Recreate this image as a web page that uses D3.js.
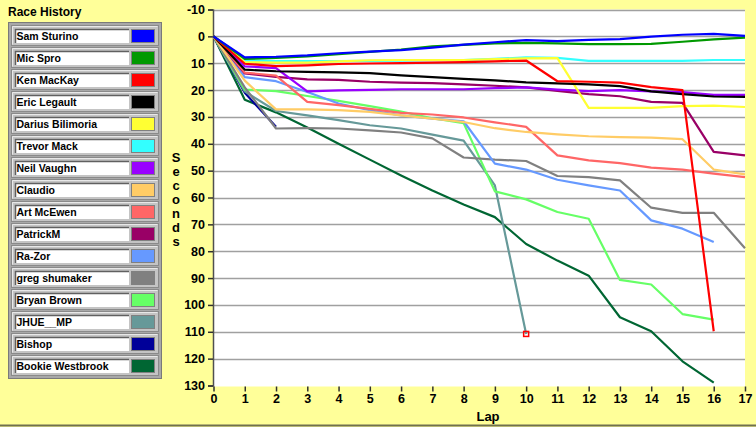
<!DOCTYPE html>
<html>
<head>
<meta charset="utf-8">
<script src="https://cdn.jsdelivr.net/npm/d3@7"></script>
<style>
  body { margin: 0; background: #FFFF99; }
  svg { display: block; font-family: "Liberation Sans", Arial, sans-serif; font-weight: bold; }
</style>
</head>
<body>
<div id="chart"></div>
<script>
const laps = d3.range(0, 18);
const yTicks = d3.range(-10, 131, 10);

const drivers = ["Sam Sturino", "Mic Spro", "Ken MacKay", "Eric Legault", "Darius Bilimoria",
  "Trevor Mack", "Neil Vaughn", "Claudio", "Art McEwen", "PatrickM", "Ra-Zor",
  "greg shumaker", "Bryan Brown", "JHUE__MP", "Bishop", "Bookie Westbrook"];

const colors = ["#0000FF", "#009900", "#FF0000", "#000000", "#FFFF33", "#33FFFF", "#9900FF",
  "#FFCC66", "#FF6666", "#990066", "#6699FF", "#808080", "#66FF66", "#669999", "#000099", "#006633"];

// seconds behind the leader after each lap (lap 0 first)
const samSturino = [0, 7.8, 7.6, 7.1, 6.3, 5.7, 5.1, 4.2, 3.1, 2.2, 1.4, 1.8, 1.3, 1.0, 0.1, -0.6, -0.9, -0.2];
const micSpro = [0, 8.4, 8.0, 7.5, 6.6, 5.8, 4.9, 3.7, 3.2, 2.6, 2.4, 2.6, 2.9, 2.9, 2.8, 2.0, 1.1, 0.5];
const kenMacKay = [0, 10.2, 11.1, 10.8, 10.3, 10.1, 10.0, 9.8, 9.6, 9.3, 9.0, 16.7, 16.9, 17.2, 18.9, 20.0, 109.8];
const ericLegault = [0, 12.4, 13.0, 13.2, 13.4, 13.7, 14.5, 15.2, 15.8, 16.4, 17.1, 17.5, 17.9, 18.5, 20.5, 21.5, 22.4, 22.5];
const dariusBilimoria = [0, 9.6, 9.8, 9.8, 9.3, 8.9, 8.8, 8.8, 8.8, 8.5, 8.2, 8.1, 26.6, 26.6, 26.6, 26.0, 25.8, 26.3];
const trevorMack = [0, 9.0, 9.2, 9.2, 9.2, 9.1, 9.0, 8.9, 8.8, 8.4, 7.8, 8.0, 9.1, 9.1, 9.1, 9.1, 8.8, 8.8];
const neilVaughn = [0, 11.2, 11.8, 20.5, 20.1, 19.9, 19.7, 19.7, 19.7, 19.3, 19.0, 19.8, 20.4, 20.0, 20.5, 20.8, 21.8, 21.8];
const claudio = [0, 16.5, 27.2, 27.2, 27.5, 28.1, 29.4, 30.6, 31.9, 34.2, 35.6, 36.5, 37.2, 37.5, 37.7, 38.3, 49.6, 51.4];
const artMcEwen = [0, 13.5, 14.6, 24.4, 25.6, 27.0, 28.5, 29.1, 30.2, 32.0, 33.7, 44.3, 46.2, 47.2, 48.9, 49.6, 51.1, 52.4];
const patrickM = [0, 13.8, 15.1, 16.0, 16.2, 16.9, 17.2, 17.4, 17.9, 18.4, 19.0, 20.3, 21.5, 22.3, 24.4, 24.8, 43.0, 44.3];
const raZor = [0, 15.2, 16.7, 20.7, 25.0, 27.5, 29.4, 30.6, 31.6, 47.4, 49.6, 53.4, 55.5, 57.4, 68.5, 71.6, 76.6];
const gregShumaker = [0, 19.0, 34.3, 34.2, 34.3, 35.0, 35.8, 38.0, 45.1, 45.9, 46.4, 52.0, 52.4, 53.6, 63.8, 65.7, 65.7, 78.9];
const bryanBrown = [0, 19.8, 20.4, 22.2, 24.0, 26.0, 28.0, 30.5, 32.3, 57.7, 60.7, 65.4, 67.9, 90.7, 92.4, 103.4, 105.5];
const jhueMp = [0, 20.5, 27.8, 29.4, 31.2, 33.1, 34.3, 36.6, 38.8, 55.5, 110.8];
const bishop = [0, 21.0, 33.7];
const bookieWestbrook = [0, 23.6, 28.3, 33.9, 40.0, 45.9, 51.8, 57.4, 62.6, 67.3, 77.3, 83.5, 89.1, 104.6, 109.8, 121.0, 128.9];

const seriesValues = [samSturino, micSpro, kenMacKay, ericLegault, dariusBilimoria, trevorMack,
  neilVaughn, claudio, artMcEwen, patrickM, raZor, gregShumaker, bryanBrown, jhueMp, bishop, bookieWestbrook];

const markedDriver = "JHUE__MP";

const width = 756, height = 427;

const svg = d3.select("#chart")
  .append("svg")
  .attr("width", width)
  .attr("height", height);

// bottom frame line
svg.append("line")
  .attr("x1", 0).attr("x2", width)
  .attr("y1", 425.5).attr("y2", 425.5)
  .attr("stroke", "#707050")
  .attr("stroke-width", 2);

const x = d3.scaleLinear().domain([0, 17]).range([213.5, 745]);
const y = d3.scaleLinear().domain([-10, 130]).range([9.5, 385.5]);

// plot background
svg.append("rect")
  .attr("x", x(0))
  .attr("y", y(-10))
  .attr("width", x(17) - x(0))
  .attr("height", y(130) - y(-10) + 1)
  .attr("fill", "#FFFFFF");

// grid lines
svg.append("g")
  .selectAll("line")
  .data(yTicks.filter(d => d < 130))
  .join("line")
  .attr("x1", x(0))
  .attr("x2", x(17))
  .attr("y1", d => Math.round(y(d)) + 0.5)
  .attr("y2", d => Math.round(y(d)) + 0.5)
  .attr("stroke", "#A0A0A0")
  .attr("stroke-width", 1.5);

// y axis
const yAxis = d3.axisLeft(y).tickValues(yTicks).tickFormat(d => String(d)).tickSize(5).tickPadding(3);
const yg = svg.append("g")
  .attr("transform", `translate(${x(0) - 0.5},0)`)
  .call(yAxis);
yg.select(".domain").attr("stroke", "#505050").attr("stroke-width", 1.5);
yg.selectAll(".tick line").attr("stroke", "#303030").attr("stroke-width", 1.5);
yg.selectAll(".tick text")
  .attr("font-size", 12.5)
  .attr("font-weight", "bold")
  .attr("font-family", "Liberation Sans, Arial, sans-serif")
  .attr("fill", "#000");

// x axis
const xAxis = d3.axisBottom(x).tickValues(laps).tickSize(5).tickPadding(3);
const xg = svg.append("g")
  .attr("transform", `translate(0,${y(130) + 1})`)
  .call(xAxis);
xg.select(".domain").remove();
xg.selectAll(".tick line").attr("stroke", "#303030").attr("stroke-width", 1.5);
xg.selectAll(".tick text")
  .attr("font-size", 12.5)
  .attr("font-weight", "bold")
  .attr("font-family", "Liberation Sans, Arial, sans-serif")
  .attr("fill", "#000");

// axis titles
svg.append("g")
  .selectAll("text")
  .data("Seconds".split(""))
  .join("text")
  .attr("x", 176)
  .attr("y", (d, i) => 162 + i * 14)
  .attr("text-anchor", "middle")
  .attr("font-size", 13)
  .text(d => d);

svg.append("text")
  .attr("x", 488)
  .attr("y", 421)
  .attr("text-anchor", "middle")
  .attr("font-size", 13)
  .text("Lap");

// race lines, first driver drawn last so it sits on top
const series = drivers.map((name, i) => ({
  name,
  color: colors[i],
  points: seriesValues[i].map((v, lap) => ({ lap, v }))
}));

const line = d3.line()
  .x(d => x(d.lap))
  .y(d => y(d.v));

svg.append("g")
  .selectAll("path")
  .data(series.slice().reverse())
  .join("path")
  .attr("d", d => line(d.points))
  .attr("fill", "none")
  .attr("stroke", d => d.color)
  .attr("stroke-width", 2.2)
  .attr("stroke-linejoin", "round");

// marker on the retired driver's final lap
const marked = series.find(s => s.name === markedDriver);
const lastPt = marked.points[marked.points.length - 1];
svg.append("rect")
  .attr("x", x(lastPt.lap) - 2.5)
  .attr("y", y(lastPt.v) - 2.5)
  .attr("width", 5)
  .attr("height", 5)
  .attr("fill", "none")
  .attr("stroke", "#FF0000")
  .attr("stroke-width", 1.5);

// legend
svg.append("text")
  .attr("x", 8)
  .attr("y", 16)
  .attr("font-size", 12)
  .text("Race History");

svg.append("rect")
  .attr("x", 8.5).attr("y", 22.5)
  .attr("width", 153).attr("height", 356)
  .attr("fill", "#A8A8A8")
  .attr("stroke", "#7A7A7A");

const entry = svg.append("g")
  .selectAll("g")
  .data(series)
  .join("g")
  .attr("transform", (d, i) => `translate(11,${25 + i * 22})`);

entry.append("rect")
  .attr("x", 0.5).attr("y", 0.5)
  .attr("width", 147).attr("height", 20)
  .attr("fill", "#C4C4C4")
  .attr("stroke", "#8A8A8A");
entry.append("path")
  .attr("d", "M1.5,19.5 V1.5 H146.5")
  .attr("fill", "none")
  .attr("stroke", "#E8E8E8");

entry.append("rect")
  .attr("x", 4).attr("y", 4)
  .attr("width", 114).attr("height", 14)
  .attr("fill", "#FFFFFF");
entry.append("path")
  .attr("d", "M4.5,18 V4.5 H118")
  .attr("fill", "none")
  .attr("stroke", "#606060")
  .attr("stroke-width", 1.5);

entry.append("rect")
  .attr("x", 121).attr("y", 5)
  .attr("width", 22).attr("height", 12)
  .attr("fill", d => d.color);
entry.append("rect")
  .attr("x", 120.5).attr("y", 4.5)
  .attr("width", 23).attr("height", 13)
  .attr("fill", "none")
  .attr("stroke", "#808080");

entry.append("text")
  .attr("x", 5.5)
  .attr("y", 15)
  .attr("font-size", 10.5)
  .attr("fill", "#000")
  .text(d => d.name);
</script>
</body>
</html>
